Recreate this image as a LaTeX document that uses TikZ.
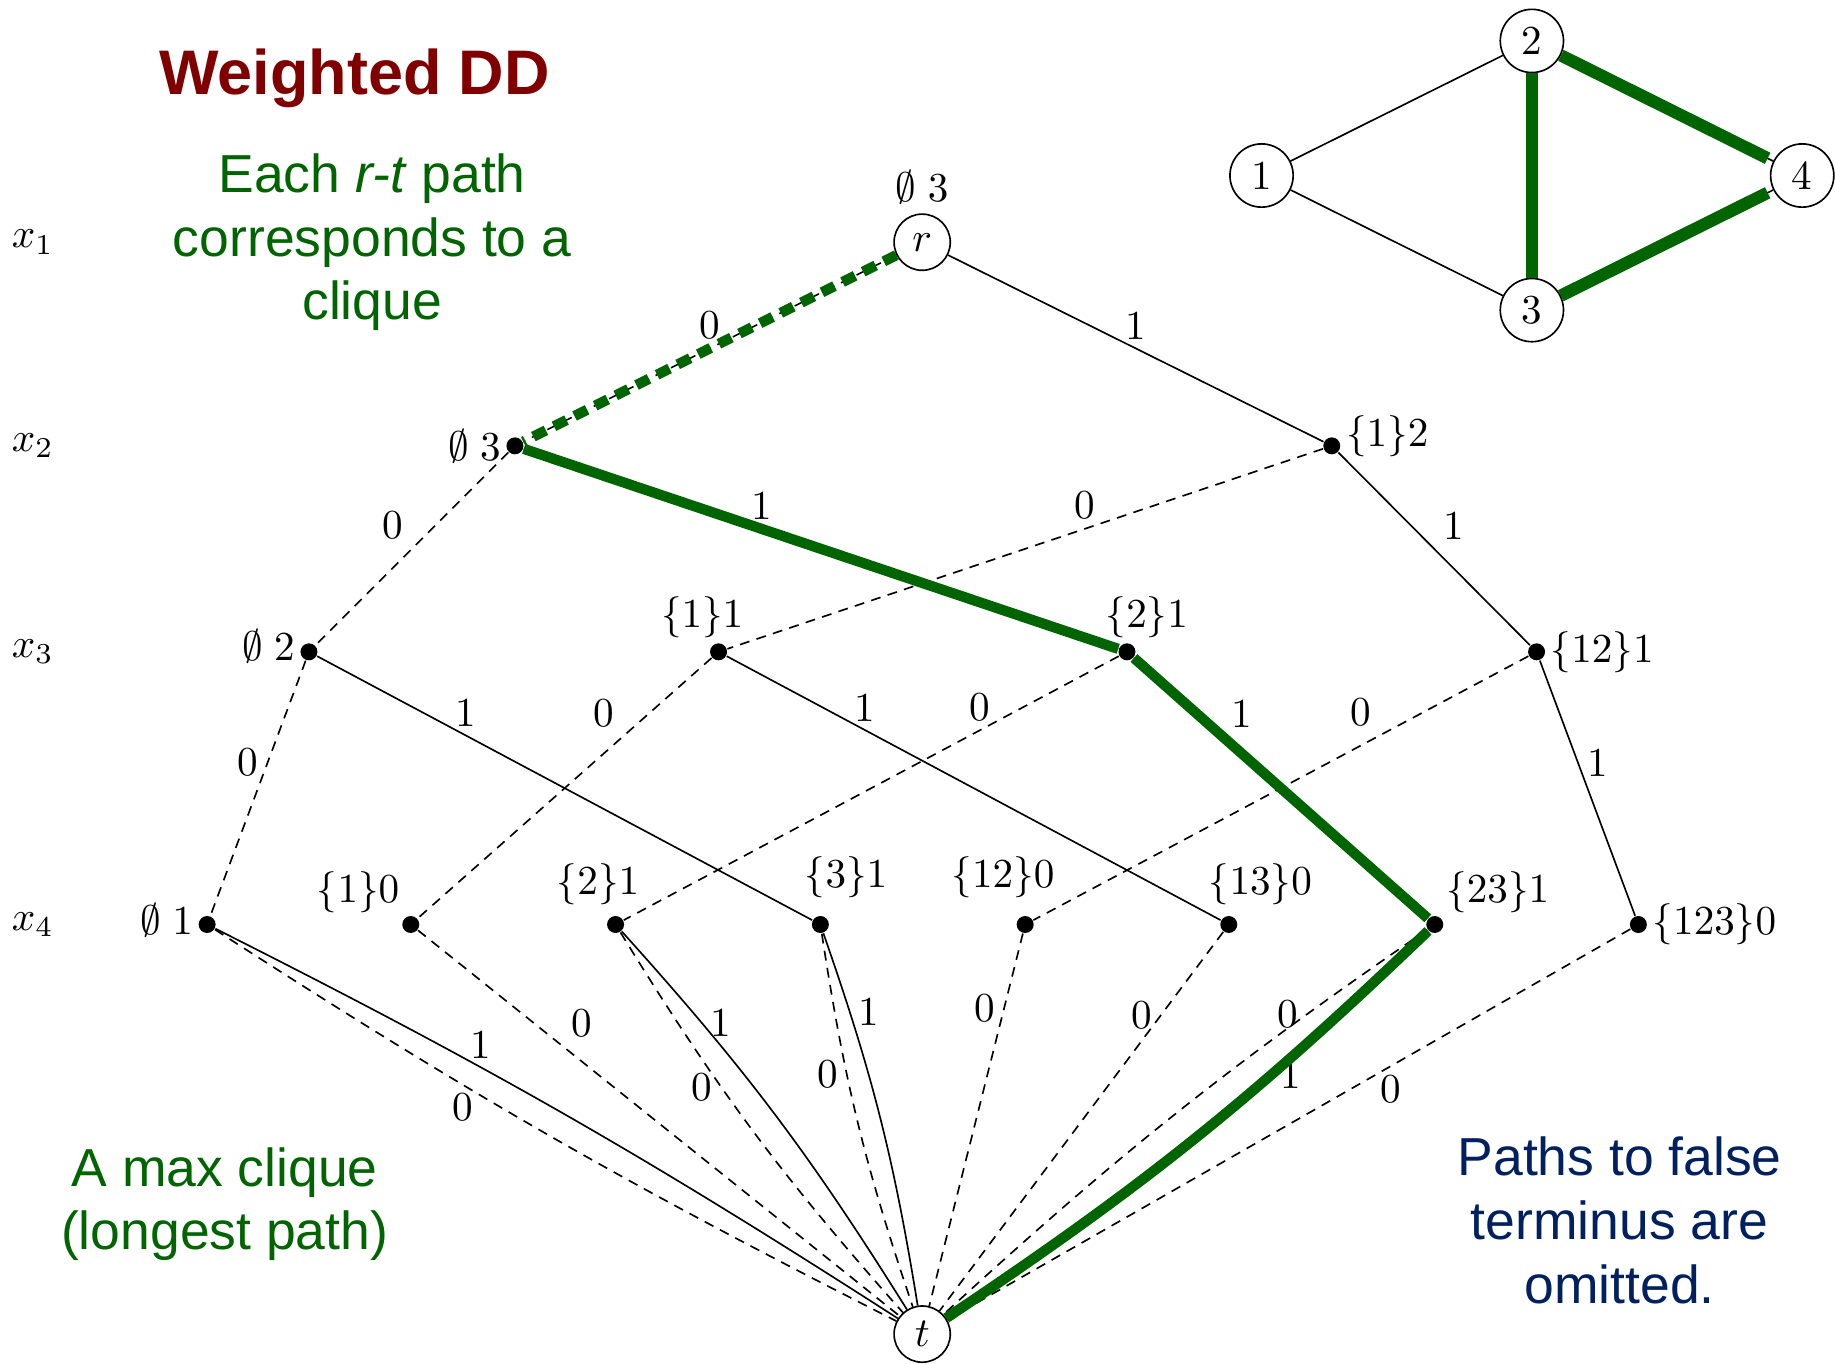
\documentclass[tikz,border=0pt]{standalone}
\usepackage{fontspec}
\newfontfamily\arialfont{Liberation Sans}
\definecolor{ddgreen}{RGB}{0,100,0}
\definecolor{ddred}{RGB}{128,0,0}
\definecolor{ddblue}{RGB}{0,32,96}
\begin{document}
\begin{tikzpicture}[x=0.01cm,y=-0.01cm,
  dot/.style={circle,fill,inner sep=0pt,minimum size=0.145cm},
  term/.style={circle,draw,inner sep=0pt,minimum size=0.48cm},
  vtx/.style={circle,draw,inner sep=0pt,minimum size=0.54cm},
  zero/.style={dash pattern=on 2.4pt off 1.8pt},
  hl/.style={ddgreen,line width=2.5pt},
  wt/.style={inner sep=2pt},
  every label/.style={inner sep=1pt},
  txt/.style={font=\arialfont\fontsize{13}{15.5}\selectfont,align=center}]
\useasboundingbox (0,0) rectangle (1568,1165);

% layers
\foreach \y [count=\i] in {207,381,557,790}
  \node (lay\i) at (28,\y) {$x_{\i}$};

% nodes of the diagram
\node[term,label={[label distance=1pt]above:$\emptyset\;3$}] (r) at (788,207) {$r$};
\node[term] (t) at (788,1140) {$t$};

\node[dot,label=left:$\emptyset\;3$] (x2e) at (440,381) {};
\node[dot,label={[yshift=0.08cm]right:$\{1\}2$}] (x2s1) at (1138,381) {};

\node[dot,label={[yshift=0.05cm]left:$\emptyset\;2$}] (x3e) at (264,557) {};
\node[dot,label={[xshift=-0.14cm]above:$\{1\}1$}] (x3s1) at (614,557) {};
\node[dot,label={[xshift=0.17cm]above:$\{2\}1$}] (x3s2) at (963,557) {};
\node[dot,label=right:$\{12\}1$] (x3s12) at (1313,557) {};

\node[dot,label={[yshift=0.04cm]left:$\emptyset\;1$}] (x4e) at (177,790) {};
\node[dot,label=above left:$\{1\}0$] (x4s1) at (351,790) {};
\node[dot,label={[xshift=-0.15cm,yshift=0.05cm]above:$\{2\}1$}] (x4s2) at (526,790) {};
\node[dot,label={[xshift=0.22cm,yshift=0.11cm]above:$\{3\}1$}] (x4s3) at (701,790) {};
\node[dot,label={[xshift=-0.19cm,yshift=0.11cm]above:$\{12\}0$}] (x4s12) at (876,790) {};
\node[dot,label={[xshift=0.27cm,yshift=0.05cm]above:$\{13\}0$}] (x4s13) at (1050,790) {};
\node[dot,label=above right:$\{23\}1$] (x4s23) at (1226,790) {};
\node[dot,label=right:$\{123\}0$] (x4s123) at (1400,790) {};

% arcs between layers
\draw[zero] (r) -- node[wt,above]{0} (x2e);
\draw (r) -- node[wt,above]{1} (x2s1);
\draw[zero] (x2e) -- node[wt,above left]{0} (x3e);
\draw (x2e) -- node[wt,above,pos=.4]{1} (x3s2);
\draw[zero] (x2s1) -- node[wt,above,pos=.4]{0} (x3s1);
\draw (x2s1) -- node[wt,above right]{1} (x3s12);
\draw[zero] (x3e) -- node[wt,left,pos=.4]{0} (x4e);
\draw (x3e) -- node[wt,above,pos=.3]{1} (x4s3);
\draw[zero] (x3s1) -- node[wt,above left,pos=.3]{0} (x4s1);
\draw (x3s1) -- node[wt,above,pos=.28]{1} (x4s13);
\draw[zero] (x3s2) -- node[wt,above,pos=.28]{0} (x4s2);
\draw (x3s2) -- node[wt,above right,pos=.3]{1} (x4s23);
\draw[zero] (x3s12) -- node[wt,above left,pos=.3]{0} (x4s12);
\draw (x3s12) -- node[wt,right,pos=.4]{1} (x4s123);

% arcs into the terminal
\draw (x4e) to[bend left=3] node[wt,above,pos=.37]{1} (t);
\draw[zero] (x4e) to[bend right=3] node[wt,below,pos=.36]{0} (t);
\draw[zero] (x4s1) -- node[wt,above right,pos=.3]{0} (t);
\draw (x4s2) to[bend left=5] node[wt,right,pos=.24]{1} (t);
\draw[zero] (x4s2) to[bend right=5] node[wt,left,pos=.38]{0} (t);
\draw (x4s3) to[bend left=5] node[wt,right,pos=.2]{1} (t);
\draw[zero] (x4s3) to[bend right=5] node[wt,left,pos=.36]{0} (t);
\draw[zero] (x4s12) -- node[wt,left,pos=.2]{0} (t);
\draw[zero] (x4s13) -- node[wt,left,pos=.22]{0} (t);
\draw (x4s23) to[bend left=5] node[wt,right,pos=.33]{1} (t);
\draw[zero] (x4s23) to[bend right=4] node[wt,left,pos=.22]{0} (t);
\draw[zero] (x4s123) -- node[wt,below,pos=.35]{0} (t);

% longest path
\draw[hl,dash pattern=on 3.4pt off 2.2pt] (r) -- (x2e);
\draw[hl] (x2e) -- (x3s2);
\draw[hl] (x3s2) -- (x4s23);
\draw[hl] (x4s23) to[bend left=5] (t);

% the graph
\node[vtx] (g1) at (1078,150) {1};
\node[vtx] (g2) at (1309,35) {2};
\node[vtx] (g3) at (1309,265) {3};
\node[vtx] (g4) at (1540,150) {4};
\draw (g1) -- (g2) (g1) -- (g3) (g2) -- (g3) (g2) -- (g4) (g3) -- (g4);
\draw[ddgreen,line width=3pt] (g2) -- (g3);
\draw[ddgreen,line width=3pt,shorten >=1.5pt] (g2) -- (g4);
\draw[ddgreen,line width=3pt,shorten >=1.5pt] (g3) -- (g4);

% texts
\node[txt,font=\arialfont\bfseries\fontsize{15.3}{18}\selectfont,text=ddred] (title) at (303,67) {Weighted DD};
\node[txt,text=ddgreen] (note1) at (318,207) {Each \textit{r-t} path\\corresponds to a\\clique};
\node[txt,text=ddgreen] (note2) at (192,1029) {A max clique\\(longest path)};
\node[txt,text=ddblue] (note3) at (1384,1043) {Paths to false\\terminus are\\omitted.};
\end{tikzpicture}
\end{document}
